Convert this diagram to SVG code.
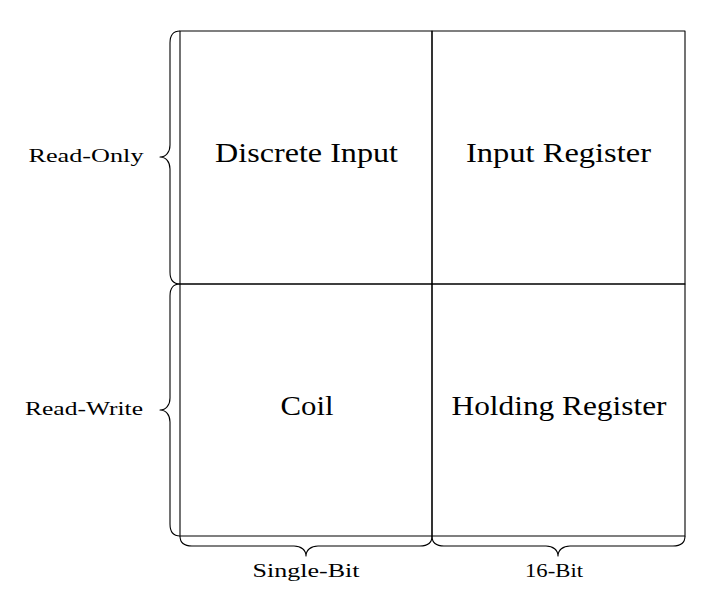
<svg xmlns="http://www.w3.org/2000/svg" width="726" height="603" viewBox="0 0 726 603">
<style>
.ln{fill:none;stroke:#000;stroke-width:1.1;stroke-linejoin:round}
.big{font-family:"Liberation Serif","DejaVu Serif",serif;font-size:26.5px;text-anchor:middle;fill:#000}
.sm{font-family:"Liberation Serif","DejaVu Serif",serif;font-size:18.5px;text-anchor:middle;fill:#000}
</style>
<rect width="726" height="603" fill="#fff"/>
<g id="cell-discrete-input">
<rect class="ln" x="180" y="31" width="252" height="253"/>
<text class="big" x="306.5" y="162" textLength="183" lengthAdjust="spacingAndGlyphs">Discrete Input</text>
</g>
<g id="cell-input-register">
<rect class="ln" x="432" y="31" width="253" height="253"/>
<text class="big" x="558.5" y="162" textLength="185" lengthAdjust="spacingAndGlyphs">Input Register</text>
</g>
<g id="cell-coil">
<rect class="ln" x="180" y="284" width="252" height="252"/>
<text class="big" x="307" y="415" textLength="53" lengthAdjust="spacingAndGlyphs">Coil</text>
</g>
<g id="cell-holding-register">
<rect class="ln" x="432" y="284" width="253" height="252"/>
<text class="big" x="559" y="415" textLength="215" lengthAdjust="spacingAndGlyphs">Holding Register</text>
</g>
<g id="braces">
<path class="ln" d="M180,31 C174,31 170,35 170,43 L170,145 C170,152 166,157 160,157 C166,157 170,162 170,169 L170,272 C170,280 174,284 180,284"/>
<path class="ln" d="M180,284 C174,284 170,288 170,296 L170,398 C170,405 166,410 160,410 C166,410 170,415 170,422 L170,524 C170,532 174,536 180,536"/>
<path class="ln" d="M180,536 C180,542 184,546 192,546 L294,546 C301,546 306,550 306,556 C306,550 311,546 318,546 L420,546 C428,546 432,542 432,536"/>
<path class="ln" d="M432,536 C432,542 436,546 444,546 L546,546 C553,546 558,550 558,556 C558,550 563,546 570,546 L673,546 C681,546 685,542 685,536"/>
</g>
<g id="label-read-only"><text class="sm" x="86" y="162" textLength="115" lengthAdjust="spacingAndGlyphs">Read-Only</text></g>
<g id="label-read-write"><text class="sm" x="84" y="415" textLength="118" lengthAdjust="spacingAndGlyphs">Read-Write</text></g>
<g id="label-single-bit"><text class="sm" x="306" y="577" textLength="107" lengthAdjust="spacingAndGlyphs">Single-Bit</text></g>
<g id="label-16-bit"><text class="sm" x="554" y="577" textLength="58" lengthAdjust="spacingAndGlyphs">16-Bit</text></g>
</svg>
